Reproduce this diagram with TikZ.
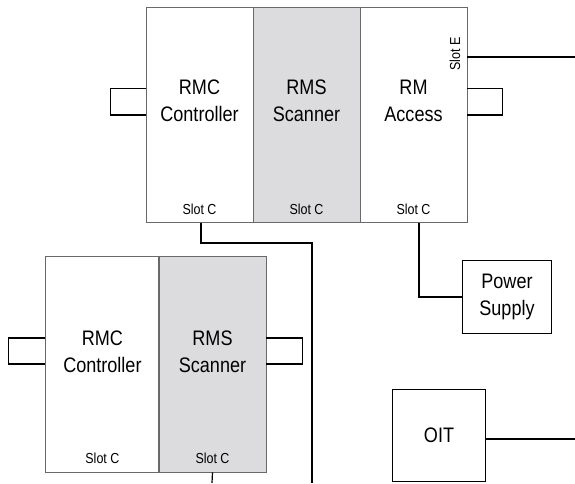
\documentclass[tikz,border=0pt]{standalone}
\usepackage{fontspec}
\setmainfont[FakeStretch=0.86]{Liberation Sans}
\usetikzlibrary{positioning,calc}
\definecolor{scangray}{RGB}{220,220,222}
\definecolor{edgegray}{RGB}{105,105,105}

\begin{document}
\begin{tikzpicture}[x=1pt,y=-1pt,
  module/.style={rectangle,draw=edgegray,line width=0.9pt,fill=white,
                 minimum width=107pt,minimum height=215pt,inner sep=0pt},
  title/.style={align=center,font=\fontsize{21}{27}\selectfont,inner sep=0pt},
  slot/.style={font=\fontsize{14.5}{17}\selectfont,inner sep=0pt},
  unit/.style={rectangle,draw,line width=1.5pt,align=center,inner sep=0pt,
               font=\fontsize{21}{27}\selectfont},
  wire/.style={line width=1.2pt,black}]
\useasboundingbox (0,0) rectangle (575,483);
\node[module] (ctl1) at (199.5,114.8) {};
\node[module,fill=scangray] (scn1) at (306.5,114.8) {};
\node[module] (acc1) at (413.5,114.8) {};
\node[title] (ctl1t) at (199.5,101) {RMC\\Controller};
\node[title] (scn1t) at (306.5,101) {RMS\\Scanner};
\node[title] (acc1t) at (413.5,101) {RM\\Access};
\node[slot] (ctl1s) at (199.5,209) {Slot C};
\node[slot] (scn1s) at (306.5,209) {Slot C};
\node[slot] (acc1s) at (413.5,209) {Slot C};
\node[slot,rotate=90] (acc1e) at (455,54) {Slot E};
\node[module,minimum width=113pt,minimum height=216pt] (ctl2) at (102.4,364) {};
\node[module,fill=scangray,minimum height=216pt] (scn2) at (212.5,364) {};
\node[title] (ctl2t) at (102.4,352) {RMC\\Controller};
\node[title] (scn2t) at (212.5,352) {RMS\\Scanner};
\node[slot] (ctl2s) at (102.4,458) {Slot C};
\node[slot] (scn2s) at (212.5,458) {Slot C};
\node[unit,minimum width=89pt,minimum height=73pt] (psu) at (507,297) {Power\\Supply};
\node[unit,minimum width=93pt,minimum height=92pt] (oit) at (439,435.5) {OIT};
\coordinate (slotE) at (575,57);
\coordinate (busT) at (312,243);
\coordinate (busB) at (312,483);
\coordinate (scn2B) at (212,483);
\coordinate (oitR) at (575,439);
\draw[wire] (acc1.east |- slotE) -- (slotE);
\draw[wire] (ctl1.west |- 0,88.7) -- ++(-35,0) -- ++(0,26.3) -- ++(35,0);
\draw[wire] (acc1.east |- 0,88.7) -- ++(35,0) -- ++(0,26.3) -- ++(-35,0);
\draw[wire] (ctl2.west |- 0,338) -- ++(-37,0) -- ++(0,26) -- ++(37,0);
\draw[wire] (scn2.east |- 0,338) -- ++(36,0) -- ++(0,26) -- ++(-36,0);
\draw[wire] ([xshift=1.5pt]ctl1.south) |- (busT) -- (busB);
\draw[wire] ([xshift=5.5pt]acc1.south) |- (psu.west);
\draw[wire] (scn2.south) -- (scn2B);
\draw[wire] (oit.east |- oitR) -- (oitR);
\end{tikzpicture}
\end{document}
